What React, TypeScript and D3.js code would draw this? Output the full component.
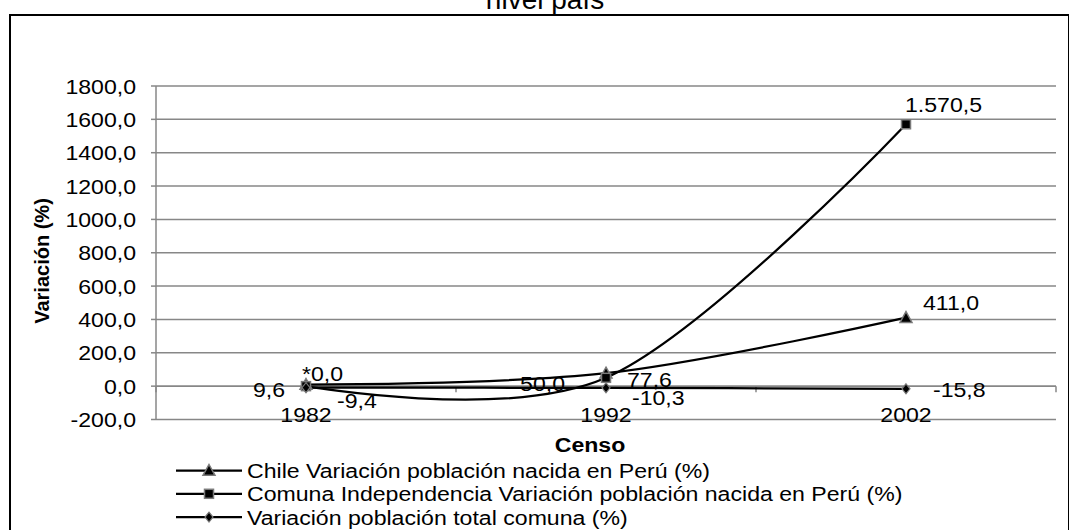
import React from "react";
import * as d3 from "d3";

const categories = ["1982", "1992", "2002"];
const chileValues = [9.6, 77.6, 411.0];
const comunaValues = [0.0, 50.0, 1570.5];
const totalValues = [-9.4, -10.3, -15.8];
const yTicks = [-200, 0, 200, 400, 600, 800, 1000, 1200, 1400, 1600, 1800];
const seriesNames = [
  "Chile Variación población nacida en Perú (%)",
  "Comuna Independencia Variación población nacida en Perú (%)",
  "Variación población total comuna (%)",
];
const labelPrefixes = [["", "", ""], ["*", "", ""], ["", "", ""]];

// label offsets relative to point: [dx, dy, anchor]
const labelOffsets: [number, number, string][][] = [
  [[-21, 12.5, "end"], [21, 14, "start"], [17, -8, "start"]],
  [[-4, -5, "start"], [-41, 13, "end"], [-1, -12, "start"]],
  [[31, 20, "start"], [26, 17, "start"], [27, 8, "start"]],
];

const W = 1069;
const H = 530;
const FONT = "'Liberation Sans', Arial, sans-serif";
const SX = 1.1;

const locale = d3.formatLocale({
  decimal: ",",
  thousands: ".",
  grouping: [3],
  currency: ["", ""],
  minus: "-",
});
const fmtLabel = locale.format(",.1f");
const fmtTick = locale.format(".1f");

function T({ x, y, children, anchor = "start", size = 21, weight = "normal", sx = SX }: any) {
  return (
    <text
      transform={`translate(${x},${y}) scale(${sx},1)`}
      textAnchor={anchor}
      fontSize={size}
      fontWeight={weight}
      fontFamily={FONT}
      fill="#000"
    >
      {children}
    </text>
  );
}

function Marker({ kind, x, y }: { kind: number; x: number; y: number }) {
  const stroke = "#7a7a7a";
  if (kind === 0) {
    const s = 6;
    return (
      <path
        d={`M${x},${y - s}L${x + s},${y + s * 0.8}L${x - s},${y + s * 0.8}Z`}
        fill="#000"
        stroke={stroke}
        strokeWidth={1.5}
      />
    );
  }
  if (kind === 1) {
    const s = 4.5;
    return <rect x={x - s} y={y - s} width={2 * s} height={2 * s} fill="#000" stroke={stroke} strokeWidth={1.5} />;
  }
  const s = 5;
  return (
    <path
      d={`M${x},${y - s}L${x + s * 0.8},${y}L${x},${y + s}L${x - s * 0.8},${y}Z`}
      fill="#000"
      stroke={stroke}
      strokeWidth={1.2}
    />
  );
}

export default function App() {
  const x0 = 156;
  const x1 = 1056;
  const xBand = d3.scaleBand<string>().domain(categories).range([x0, x1]).padding(0);
  const xc = (c: string) => (xBand(c) as number) + xBand.bandwidth() / 2;
  const y = d3.scaleLinear().domain([-200, 1800]).range([419.5, 86]);

  const series = [chileValues, comunaValues, totalValues];
  const line = d3
    .line<number>()
    .x((_, i) => xc(categories[i]))
    .y((v) => y(v))
    .curve(d3.curveCardinal.tension(0));

  const grid = "#878787";
  const boundaries = [0, 1, 2, 3].map((i) => x0 + i * xBand.bandwidth());

  return (
    <svg width={W} height={H} style={{ position: "absolute", left: 0, top: 0 }}>
      <rect x={0} y={0} width={W} height={H} fill="#fff" />
      {/* title */}
      <text x={545} y={9} textAnchor="middle" fontSize={28} fontFamily={FONT} fill="#000">
        nivel país
      </text>
      {/* outer border */}
      <rect x={10} y={15} width={1059} height={530} fill="none" stroke="#000" strokeWidth={2} />

      {/* gridlines */}
      {yTicks.map((t) => (
        <line key={t} x1={x0} x2={x1} y1={y(t)} y2={y(t)} stroke={grid} strokeWidth={1.5} />
      ))}
      {/* y axis */}
      <line x1={x0} x2={x0} y1={y(1800)} y2={y(-200)} stroke={grid} strokeWidth={1.5} />
      {yTicks.map((t) => (
        <line key={"tk" + t} x1={x0 - 5} x2={x0} y1={y(t)} y2={y(t)} stroke={grid} strokeWidth={1.5} />
      ))}
      {yTicks.map((t) => (
        <T key={"tl" + t} x={136} y={y(t) + 7.5} anchor="end">
          {fmtTick(t)}
        </T>
      ))}
      {/* x axis at 0 */}
      <line x1={x0} x2={x1} y1={y(0)} y2={y(0)} stroke={grid} strokeWidth={1.5} />
      {boundaries.map((b, i) => (
        <line key={"xb" + i} x1={b} x2={b} y1={y(0)} y2={y(0) + 6} stroke={grid} strokeWidth={1.5} />
      ))}
      {categories.map((c) => (
        <T key={c} x={xc(c)} y={422} anchor="middle">
          {c}
        </T>
      ))}

      {/* series lines */}
      {series.map((vals, si) => (
        <path key={"s" + si} d={line(vals) || ""} fill="none" stroke="#000" strokeWidth={2.25} />
      ))}
      {/* markers */}
      {series.map((vals, si) =>
        vals.map((v, i) => <Marker key={`m${si}-${i}`} kind={si} x={xc(categories[i])} y={y(v)} />)
      )}
      {/* data labels */}
      {series.map((vals, si) =>
        vals.map((v, i) => {
          const [dx, dy, anchor] = labelOffsets[si][i];
          return (
            <T key={`l${si}-${i}`} x={xc(categories[i]) + dx} y={y(v) + dy} anchor={anchor}>
              {labelPrefixes[si][i] + fmtLabel(v)}
            </T>
          );
        })
      )}

      {/* axis titles */}
      <T x={590} y={452} anchor="middle" weight="bold" size={21}>
        Censo
      </T>
      <text
        transform={`translate(49,261) rotate(-90)`}
        textAnchor="middle"
        fontSize={20}
        fontWeight="bold"
        fontFamily={FONT}
        fill="#000"
      >
        Variación (%)
      </text>

      {/* legend */}
      {seriesNames.map((name, i) => {
        const by = 478 + i * 23.3;
        const cy = by - 7.5;
        return (
          <g key={"lg" + i}>
            <line x1={176} x2={242} y1={cy} y2={cy} stroke="#000" strokeWidth={2.25} />
            <Marker kind={i} x={209} y={cy} />
            <T x={247} y={by} anchor="start">
              {name}
            </T>
          </g>
        );
      })}
    </svg>
  );
}
